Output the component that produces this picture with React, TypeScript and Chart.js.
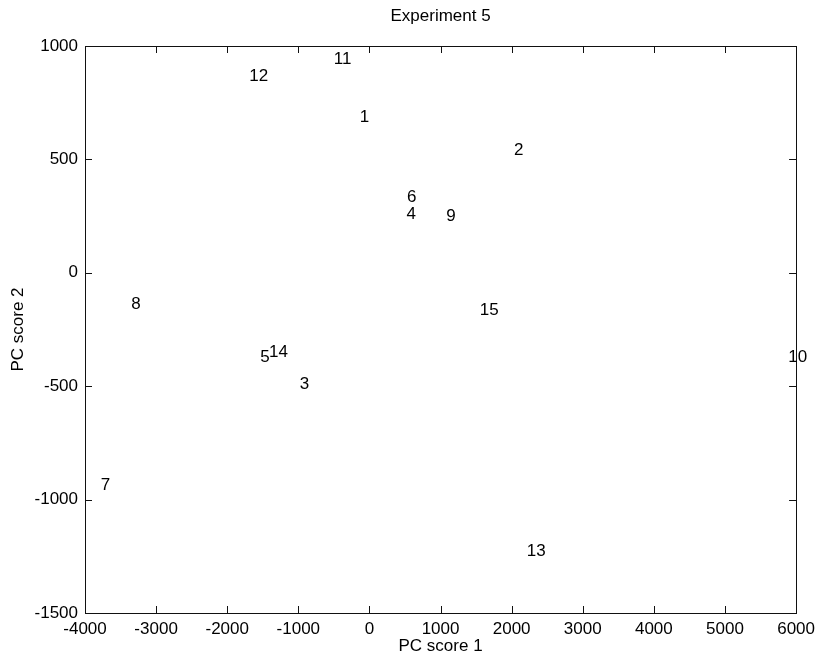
import React, { useEffect, useRef } from "react";
import { Chart, registerables } from "chart.js";

Chart.register(...registerables);

const pointLabels = ["1", "2", "3", "4", "5", "6", "7", "8", "9", "10", "11", "12", "13", "14", "15"];
const pcScore1 = [-137, 2032, -981, 521, -1537, 530, -3780, -3348, 1080, 5890, -501, -1691, 2214, -1411, 1552];
const pcScore2 = [687, 542, -492, 256, -372, 335, -937, -140, 249, -372, 943, 868, -1227, -350, -166];

const xTicks = [-4000, -3000, -2000, -1000, 0, 1000, 2000, 3000, 4000, 5000, 6000];
const yTicks = [-1500, -1000, -500, 0, 500, 1000];

const titleText = "Experiment 5";
const xTitle = "PC score 1";
const yTitle = "PC score 2";

const FONT = "'Liberation Sans', Arial, Helvetica, sans-serif";
const FS = 17;

const decorPlugin = {
  id: "decor",
  afterDatasetsDraw(chart: any) {
    const ctx = chart.ctx;
    const { left, right, top, bottom } = chart.chartArea;
    const xs = chart.scales.x;
    const ys = chart.scales.y;
    ctx.save();
    ctx.strokeStyle = "#111";
    ctx.lineWidth = 1;
    ctx.strokeRect(Math.round(left) + 0.5, Math.round(top) + 0.5, Math.round(right - left), Math.round(bottom - top));
    const tl = 7;
    ctx.beginPath();
    xTicks.forEach((v) => {
      const px = Math.round(xs.getPixelForValue(v)) + 0.5;
      ctx.moveTo(px, bottom);
      ctx.lineTo(px, bottom - tl);
      ctx.moveTo(px, top);
      ctx.lineTo(px, top + tl);
    });
    yTicks.forEach((v) => {
      const py = Math.round(ys.getPixelForValue(v)) + 0.5;
      ctx.moveTo(left, py);
      ctx.lineTo(left + tl, py);
      ctx.moveTo(right, py);
      ctx.lineTo(right - tl, py);
    });
    ctx.stroke();
    ctx.fillStyle = "#000";
    ctx.font = `${FS}px ${FONT}`;
    ctx.textAlign = "left";
    ctx.textBaseline = "middle";
    const meta = chart.getDatasetMeta(0);
    meta.data.forEach((el: any, i: number) => {
      ctx.fillText(pointLabels[i], el.x, el.y);
    });
    const cx = (left + right) / 2;
    ctx.textAlign = "center";
    ctx.fillText(titleText, cx, 16);
    ctx.fillText(xTitle, cx, 646);
    ctx.save();
    ctx.translate(18, (top + bottom) / 2);
    ctx.rotate(-Math.PI / 2);
    ctx.fillText(yTitle, 0, 0);
    ctx.restore();
    ctx.restore();
  },
};

export default function App() {
  const ref = useRef<HTMLCanvasElement>(null);
  useEffect(() => {
    document.body.style.margin = "0";
    const canvas = ref.current!;
    const chart = new Chart(canvas, {
      type: "scatter",
      data: {
        datasets: [
          {
            data: pcScore1.map((x, i) => ({ x, y: pcScore2[i] })),
            pointRadius: 0,
            pointHoverRadius: 0,
            backgroundColor: "#000",
          },
        ],
      },
      options: {
        responsive: false,
        animation: false,
        events: [],
        layout: { padding: { left: 0, right: 21, top: 46, bottom: 0 } },
        plugins: { legend: { display: false }, tooltip: { enabled: false }, title: { display: false } },
        scales: {
          x: {
            type: "linear",
            min: -4000,
            max: 6000,
            afterFit: (s: any) => {
              s.height = 45;
            },
            afterBuildTicks: (s: any) => {
              s.ticks = xTicks.map((v) => ({ value: v }));
            },
            grid: { display: false, drawTicks: false },
            border: { display: false },
            ticks: {
              color: "#000",
              font: { family: FONT, size: FS },
              padding: 6,
              maxRotation: 0,
              autoSkip: false,
              callback: (v: any) => String(v),
            },
          },
          y: {
            type: "linear",
            min: -1500,
            max: 1000,
            afterFit: (s: any) => {
              s.width = 85;
            },
            afterBuildTicks: (s: any) => {
              s.ticks = yTicks.map((v) => ({ value: v }));
            },
            grid: { display: false, drawTicks: false },
            border: { display: false },
            ticks: {
              color: "#000",
              font: { family: FONT, size: FS },
              padding: 7,
              autoSkip: false,
              callback: (v: any) => String(v),
            },
          },
        },
      },
      plugins: [decorPlugin],
    });
    return () => chart.destroy();
  }, []);
  return <canvas ref={ref} width={821} height={658} style={{ display: "block" }} />;
}
